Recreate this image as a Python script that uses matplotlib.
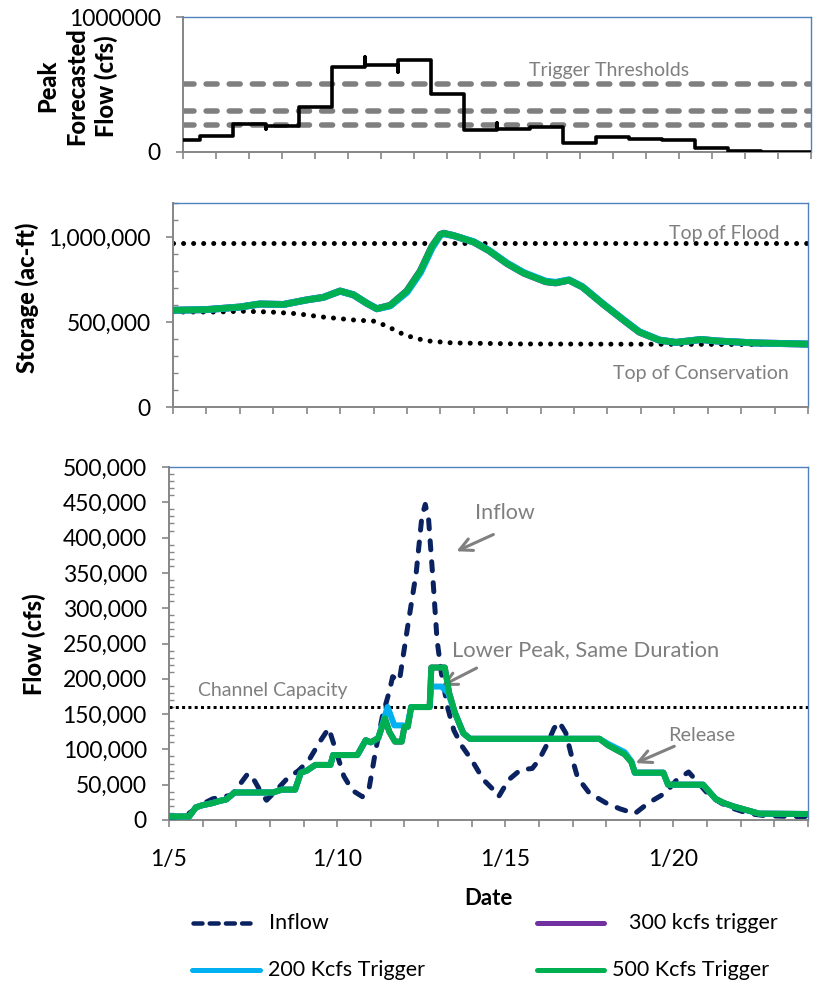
import matplotlib
matplotlib.use('Agg')
import matplotlib.pyplot as plt
from matplotlib.ticker import MultipleLocator, FuncFormatter, FixedLocator
from matplotlib.lines import Line2D

plt.rcParams['font.family'] = ['Lato', 'DejaVu Sans']

# ---------------- DATA ----------------
# x positions are days after 1/5
tick_days = [0, 5, 10, 15]
tick_labels = ['1/5', '1/10', '1/15', '1/20']

# Top panel: peak forecasted flow (step line)
fc_days = [0, 0.5, 1.5, 2.5, 2.5, 3.5, 4.5, 5.5, 5.5, 6.5, 6.5, 7.5, 8.5, 9.5, 9.5,
           10.5, 11.5, 12.5, 13.5, 14.5, 15.5, 16.5, 17.5, 19]
fc_vals = [90000, 115000, 206000, 169000, 194000, 337000, 633000, 700000, 645000,
           590000, 682000, 429000, 164000, 218000, 171000, 186000, 65000, 112000,
           94000, 87000, 32000, 10000, 2000, 2000]
trigger_thresholds = [200000, 300000, 500000]

# Middle panel: storage
stor_days = [0, 1.0, 2.0, 2.6, 3.3, 4.0, 4.5, 5.0, 5.4, 5.8, 6.1, 6.5, 7.0, 7.4, 7.75,
             8.0, 8.1, 8.4, 9.0, 9.45, 10.0, 10.5, 11.15, 11.45, 11.85, 12.25, 12.85,
             13.5, 13.95, 14.55, 15.05, 15.5, 15.8, 16.3, 17.4, 19.0]
stor_500 = [569000, 573000, 588000, 606000, 603000, 630000, 645000, 682000, 660000,
            610000, 578000, 598000, 683000, 800000, 945000, 1015000, 1022000, 1008000,
            970000, 920000, 843000, 787000, 737000, 730000, 746000, 706000, 608000,
            508000, 441000, 393000, 380000, 390000, 397000, 388000, 377000, 370000]
stor_200 = [569000, 573000, 588000, 606000, 603000, 630000, 645000, 682000, 660000,
            610000, 578000, 595000, 675000, 790000, 935000, 1012000, 1020000, 1008000,
            972000, 922000, 846000, 790000, 740000, 733000, 748000, 708000, 610000,
            510000, 443000, 394000, 380000, 390000, 397000, 388000, 377000, 370000]
stor_300 = stor_500
tcon_days = [0, 1.3, 2.1, 2.9, 3.7, 4.45, 5.4, 6.0, 6.35, 6.95, 7.55, 8.35, 10.4, 19]
tcon_vals = [559000, 559000, 563000, 559000, 549000, 530000, 512000, 505000, 480000,
             422000, 390000, 377000, 371000, 367000]
tflood_days = [0, 19]
tflood_vals = [965000, 965000]

# Bottom panel: flows
inflow_days = [0.0, 0.5, 0.75, 1.05, 1.3, 1.6, 1.85, 2.1, 2.35, 2.55, 2.75, 2.9, 3.15,
               3.5, 3.85, 4.15, 4.5, 4.75, 4.95, 5.2, 5.45, 5.75, 5.95, 6.15, 6.35,
               6.55, 6.65, 6.85, 7.1, 7.35, 7.52, 7.62, 7.72, 7.85, 7.97, 8.1, 8.28,
               8.47, 8.72, 9.0, 9.35, 9.6, 9.8, 10.1, 10.45, 10.8, 11.0, 11.25, 11.45,
               11.6, 11.8, 12.0, 12.15, 12.5, 13.0, 13.4, 13.85, 14.25, 14.75, 15.1,
               15.45, 15.75, 16.1, 16.6, 17.25, 17.75, 18.5, 19.0]
inflow_vals = [3000, 6000, 15000, 24000, 30000, 33000, 35000, 50000, 66000, 55000,
               38000, 28000, 40000, 58000, 70000, 84000, 112000, 130000, 100000, 62000,
               42000, 33000, 45000, 100000, 148000, 182000, 203000, 197000, 275000,
               350000, 430000, 447000, 425000, 340000, 255000, 208000, 160000, 127000,
               104000, 85000, 57000, 45000, 33000, 57000, 71000, 73000, 85000, 108000,
               130000, 139000, 123000, 85000, 60000, 38000, 24000, 16000, 9000, 24000,
               38000, 57000, 68000, 52000, 33000, 19000, 9000, 6000, 5000, 5000]

rel500_days = [0, 0.6, 0.8, 1.0, 1.3, 1.5, 1.7, 1.95, 3.1, 3.35, 3.75, 3.92, 4.1, 4.35,
               4.8, 4.88, 5.6, 5.85, 6.0, 6.22, 6.42, 6.55, 6.72, 6.92, 7.0, 7.1, 7.2,
               7.75, 7.8, 8.2, 8.33, 8.5, 8.75, 8.95, 12.8, 13.05, 13.55, 13.75, 13.85,
               14.7, 14.84, 15.88, 16.25, 16.5, 16.8, 17.55, 19.0]
rel500_vals = [5000, 5000, 18000, 21000, 24000, 27000, 29000, 39000, 39000, 43000,
               43000, 67000, 70000, 78000, 78000, 92000, 92000, 113000, 110000, 116000,
               144000, 125000, 111000, 111000, 132000, 132000, 160000, 160000, 216000,
               216000, 180000, 152000, 123000, 115000, 115000, 106000, 93000, 82000,
               67000, 67000, 50000, 50000, 30000, 24000, 19000, 9000, 8500]
rel200_days = [0, 0.6, 0.8, 1.0, 1.3, 1.5, 1.7, 1.95, 3.1, 3.35, 3.75, 3.92, 4.1, 4.35,
               4.8, 4.88, 5.6, 5.85, 6.0, 6.22, 6.5, 6.7, 6.96, 7.08, 7.2, 7.75, 7.8,
               8.1, 8.3, 8.5, 8.75, 8.95, 12.8, 13.05, 13.55, 13.75, 13.85, 14.7,
               14.84, 15.88, 16.25, 16.5, 16.8, 17.55, 19.0]
rel200_vals = [5000, 5000, 18000, 21000, 24000, 27000, 29000, 39000, 39000, 43000,
               43000, 67000, 70000, 78000, 78000, 92000, 92000, 113000, 110000, 116000,
               160000, 134000, 134000, 132000, 160000, 160000, 189000, 189000, 180000,
               152000, 123000, 115000, 115000, 108000, 96000, 83000, 67000, 67000,
               50000, 50000, 30000, 24000, 19000, 9000, 8500]
rel300_days = rel500_days
rel300_vals = rel500_vals
channel_capacity = 160000

# ---------------- STYLE ----------------
W, H = 813, 988
NAVY = '#0B2260'
GREEN = '#00B050'
LBLUE = '#00B0F0'
PURPLE = '#7030A0'
GRAY = '#7F7F7F'
AXGRAY = '#868686'
BORDER = '#4F81BD'
PX = 0.72  # points per pixel at dpi 100

fig = plt.figure(figsize=(W / 100, H / 100), dpi=100)


def px_axes(l, t, r, b):
    return fig.add_axes([l / W, 1 - b / H, (r - l) / W, (b - t) / H])


def style_axes(ax):
    ax.spines['left'].set_color(AXGRAY)
    ax.spines['bottom'].set_color(AXGRAY)
    ax.spines['left'].set_linewidth(1.4)
    ax.spines['bottom'].set_linewidth(1.4)
    ax.spines['top'].set_color(BORDER)
    ax.spines['right'].set_color(BORDER)
    ax.spines['top'].set_linewidth(1.0)
    ax.spines['right'].set_linewidth(1.0)
    ax.set_xlim(0, 19)
    ax.xaxis.set_major_locator(MultipleLocator(1))
    ax.tick_params(which='major', direction='out', length=5, width=1.2,
                   color=AXGRAY, labelsize=16.5, pad=11)
    ax.tick_params(which='minor', direction='in', length=3.5, width=1.0,
                   color=AXGRAY)
    ax.tick_params(axis='x', which='minor', bottom=False)


# ---- Top panel ----
ax1 = px_axes(183, 17, 811, 152)
style_axes(ax1)
for thr in trigger_thresholds:
    ax1.plot([0, 19], [thr, thr], color=GRAY, lw=5.5 * PX, dashes=(2.0, 2.2),
             dash_capstyle='round', zorder=2)
ax1.plot(fc_days, fc_vals, drawstyle='steps-post', color='black', lw=3.6 * PX, zorder=3)
ax1.set_ylim(0, 1000000)
ax1.yaxis.set_major_locator(FixedLocator([0, 1000000]))
ax1.yaxis.set_major_formatter(FuncFormatter(lambda v, p: f'{int(v)}'))
ax1.tick_params(axis='x', labelbottom=False)
ax1.text(12.9, 607000, 'Trigger Thresholds', color=GRAY, fontsize=14,
         ha='center', va='center')

# ---- Middle panel ----
ax2 = px_axes(173, 203, 808, 407)
style_axes(ax2)
ax2.plot(tflood_days, tflood_vals, color='black', lw=5 * PX, dashes=(0.01, 2.0),
         dash_capstyle='round', zorder=2)
ax2.plot(tcon_days, tcon_vals, color='black', lw=5 * PX, dashes=(0.01, 2.0),
         dash_capstyle='round', zorder=2)
ax2.plot(stor_days, stor_300, color=PURPLE, lw=7 * PX, zorder=3)
ax2.plot(stor_days, stor_200, color=LBLUE, lw=7 * PX, zorder=4)
ax2.plot(stor_days, stor_500, color=GREEN, lw=6.5 * PX, zorder=5)
ax2.set_ylim(0, 1200000)
ax2.yaxis.set_major_locator(FixedLocator([0, 500000, 1000000]))
ax2.yaxis.set_minor_locator(MultipleLocator(100000))
ax2.yaxis.set_major_formatter(FuncFormatter(lambda v, p: f'{int(v):,}'))
ax2.tick_params(axis='x', labelbottom=False)
ax2.text(16.5, 1023000, 'Top of Flood', color=GRAY, fontsize=14, ha='center', va='center')
ax2.text(15.8, 200000, 'Top of Conservation', color=GRAY, fontsize=14,
         ha='center', va='center')

# ---- Bottom panel ----
ax3 = px_axes(169, 467, 808, 820)
style_axes(ax3)
ax3.plot([0, 19], [channel_capacity, channel_capacity], color='black', lw=3 * PX,
         dashes=(1, 1.1), zorder=2)
ax3.plot(inflow_days, inflow_vals, color=NAVY, lw=5 * PX, dashes=(1.8, 2.4),
         dash_capstyle='round', zorder=3)
ax3.plot(rel300_days, rel300_vals, color=PURPLE, lw=6 * PX, zorder=4)
ax3.plot(rel200_days, rel200_vals, color=LBLUE, lw=6 * PX, zorder=5)
ax3.plot(rel500_days, rel500_vals, color=GREEN, lw=6 * PX, zorder=6)
ax3.set_ylim(0, 500000)
ax3.yaxis.set_major_locator(MultipleLocator(50000))
ax3.yaxis.set_minor_locator(MultipleLocator(10000))
ax3.yaxis.set_major_formatter(FuncFormatter(lambda v, p: f'{int(v):,}'))
ax3.xaxis.set_major_locator(FixedLocator(list(range(20))))
ax3.set_xticklabels([tick_labels[tick_days.index(d)] if d in tick_days else ''
                     for d in range(20)])
ax3.tick_params(axis='x', pad=16)

ann_kw = dict(arrowstyle='->,head_length=0.9,head_width=0.45', color='#808080', lw=2.2)
ax3.text(10.0, 435000, 'Inflow', color=GRAY, fontsize=15.5, ha='center', va='center')
ax3.annotate('', xy=(8.47, 379000), xytext=(9.72, 406000), arrowprops=ann_kw)
ax3.text(8.42, 241000, 'Lower Peak, Same Duration', color=GRAY, fontsize=15.8,
         ha='left', va='center')
ax3.annotate('', xy=(8.03, 188000), xytext=(9.22, 217000), arrowprops=ann_kw)
ax3.text(0.86, 184000, 'Channel Capacity', color=GRAY, fontsize=14,
         ha='left', va='center')
ax3.text(14.84, 120000, 'Release', color=GRAY, fontsize=14.3, ha='left', va='center')
ax3.annotate('', xy=(13.8, 79000), xytext=(15.1, 106000), arrowprops=ann_kw)

# ---- Axis titles ----
LBL_FS = 17
fig.text(77 / W, 1 - 86 / H, 'Peak\nForecasted\nFlow (cfs)', rotation=90,
         ha='center', va='center', fontsize=LBL_FS, fontweight=900, linespacing=1.3)
fig.text(27 / W, 1 - 298 / H, 'Storage (ac-ft)', rotation=90, ha='center',
         va='center', fontsize=LBL_FS, fontweight=900)
fig.text(34 / W, 1 - 644 / H, 'Flow (cfs)', rotation=90, ha='center',
         va='center', fontsize=LBL_FS, fontweight=900)
fig.text(488 / W, 1 - 898 / H, 'Date', ha='center', va='center', fontsize=16,
         fontweight='bold')

# ---- Legend (drawn below the chart) ----
lg = fig.add_axes([0, 0, 1, 1])
lg.set_xlim(0, W)
lg.set_ylim(H, 0)
lg.axis('off')
lg.patch.set_visible(False)
lg.add_line(Line2D([193, 250], [923, 923], color=NAVY, lw=4.5 * PX,
                   dashes=(2, 1.6), dash_capstyle='round'))
lg.text(269, 923, 'Inflow', fontsize=15.5, va='center', ha='left')
lg.add_line(Line2D([537, 604], [923, 923], color=PURPLE, lw=5 * PX,
                   solid_capstyle='round'))
lg.text(629, 923, '300 kcfs trigger', fontsize=15.5, va='center', ha='left')
lg.add_line(Line2D([192, 260], [970, 970], color=LBLUE, lw=5 * PX,
                   solid_capstyle='round'))
lg.text(268, 970, '200 Kcfs Trigger', fontsize=15.5, va='center', ha='left')
lg.add_line(Line2D([537, 604], [970, 970], color=GREEN, lw=5 * PX,
                   solid_capstyle='round'))
lg.text(612, 970, '500 Kcfs Trigger', fontsize=15.5, va='center', ha='left')

fig.savefig('out.png', dpi=100)
